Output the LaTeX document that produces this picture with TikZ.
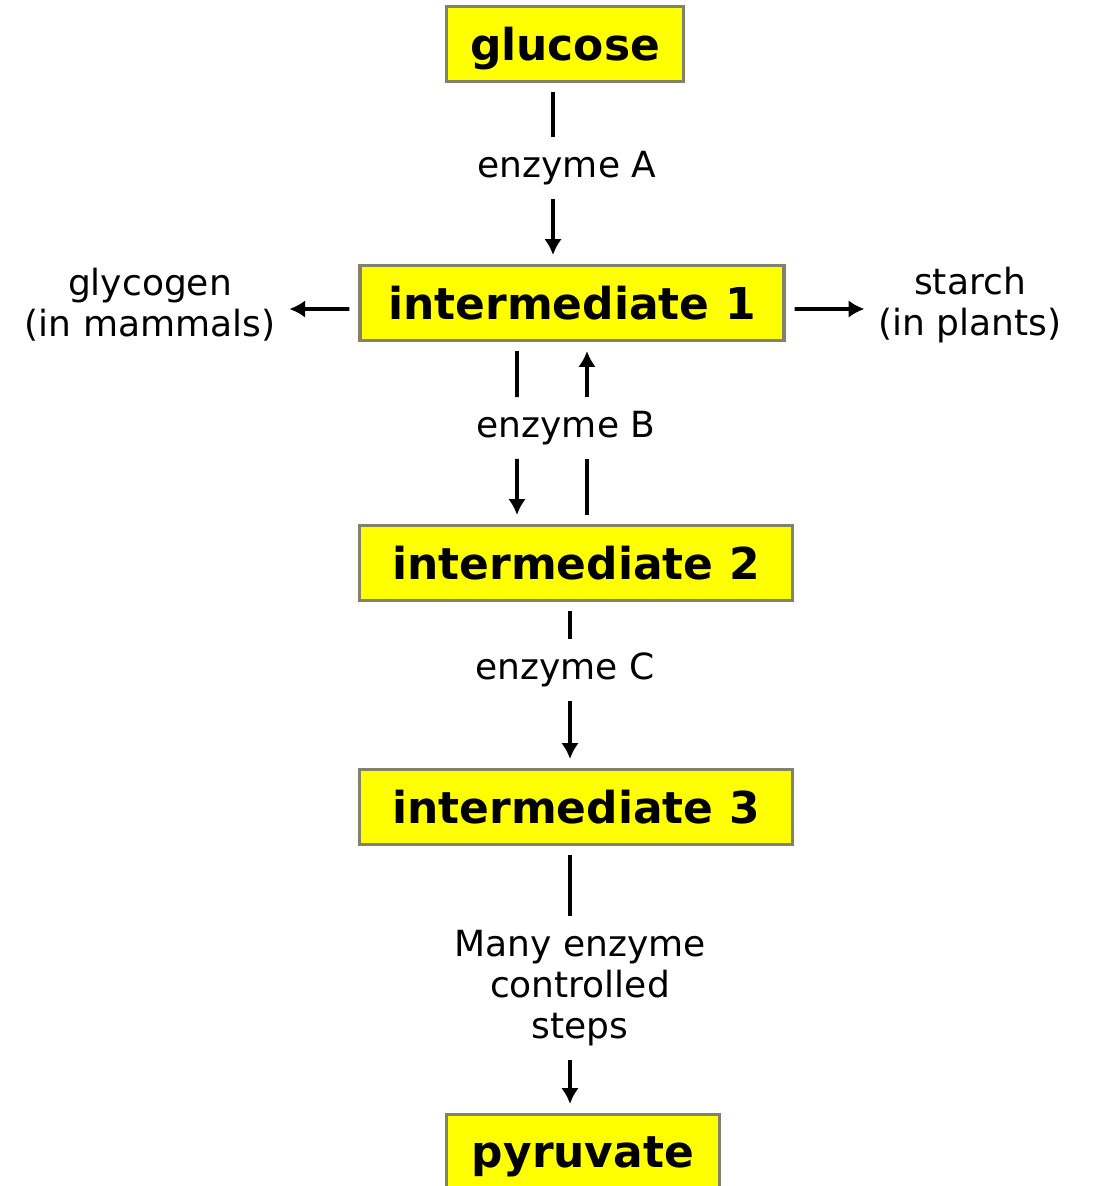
\documentclass[tikz,border=0pt]{standalone}
\usepackage{fontspec}
\setmainfont{DejaVu Sans}
\usetikzlibrary{arrows.meta}

\definecolor{boxfill}{RGB}{255,255,0}
\definecolor{boxline}{RGB}{130,130,105}

\tikzset{
  stepbox/.style={draw=boxline,fill=boxfill,line width=2pt,inner sep=0pt,outer sep=6pt,
    minimum height=1.5cm,text depth=0pt,font=\bfseries\fontsize{25}{30}\selectfont},
  enzlabel/.style={inner sep=0pt,outer sep=8pt,align=center,font=\fontsize{20.5}{23.5}\selectfont},
  link/.style={line width=2.2pt},
  flow/.style={link,-{Latex[length=9pt,width=10pt]}}
}

\begin{document}
\begin{tikzpicture}
\useasboundingbox (0,0) rectangle (21.94,-23.72);

% boxes
\node[stepbox,minimum width=4.74cm] (glucose)  at (11.30,-0.88)  {glucose};
\node[stepbox,minimum width=8.48cm] (int1)     at (11.44,-6.06)  {intermediate 1};
\node[stepbox,minimum width=8.66cm] (int2)     at (11.52,-11.26) {intermediate 2};
\node[stepbox,minimum width=8.66cm] (int3)     at (11.52,-16.14) {intermediate 3};
\node[stepbox,minimum width=5.46cm] (pyruvate) at (11.66,-23.04) {pyruvate};

% labels
\node[enzlabel] (enzA)     at (11.34,-3.36)  {enzyme A};
\node[enzlabel] (enzB)     at (11.32,-8.56)  {enzyme B};
\node[enzlabel] (enzC)     at (11.30,-13.40) {enzyme C};
\node[enzlabel] (many)     at (11.60,-19.76) {Many enzyme\\controlled\\steps};
\node[enzlabel] (glycogen) at (3.00,-6.10)   {glycogen\\(in mammals)};
\node[enzlabel] (starch)   at (19.40,-6.10)  {starch\\(in plants)};

% glucose -> intermediate 1
\draw[link] ([xshift=-0.24cm]glucose.south) -- ([xshift=-0.28cm]enzA.north);
\draw[flow] ([xshift=-0.28cm]enzA.south) -- ([xshift=-0.38cm]int1.north);

% intermediate 1 <-> intermediate 2
\draw[link] ([xshift=-1.10cm]int1.south) -- ([xshift=-0.98cm]enzB.north);
\draw[flow] ([xshift=-0.98cm]enzB.south) -- ([xshift=-1.18cm]int2.north);
\draw[link] ([xshift=0.22cm]int2.north) -- ([xshift=0.42cm]enzB.south);
\draw[flow] ([xshift=0.42cm]enzB.north) -- ([xshift=0.30cm]int1.south);

% intermediate 2 -> intermediate 3
\draw[link] ([xshift=-0.12cm]int2.south) -- ([xshift=0.10cm]enzC.north);
\draw[flow] ([xshift=0.10cm]enzC.south) -- ([xshift=-0.12cm]int3.north);

% intermediate 3 -> pyruvate
\draw[link] ([xshift=-0.12cm]int3.south) -- ([xshift=-0.20cm]many.north);
\draw[flow] ([xshift=-0.20cm]many.south) -- ([xshift=-0.26cm]pyruvate.north);

% side branches
\draw[flow] ([yshift=-0.12cm]int1.west) -- ([yshift=-0.08cm]glycogen.east);
\draw[flow] ([yshift=-0.12cm]int1.east) -- ([yshift=-0.08cm]starch.west);
\end{tikzpicture}
\end{document}
